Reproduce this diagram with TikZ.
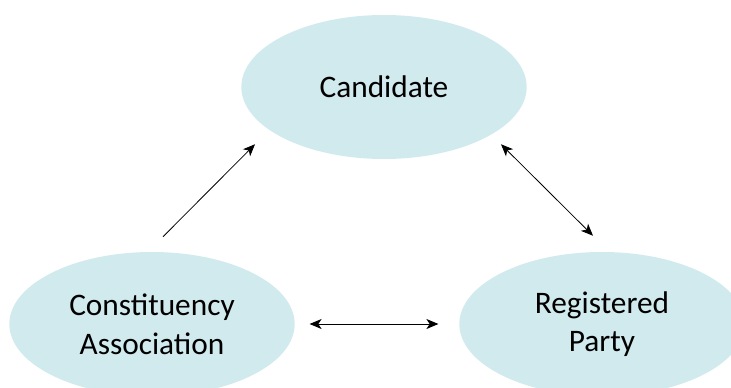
\documentclass[tikz,border=0pt]{standalone}
\usepackage{fontspec}
\setmainfont{Carlito}
\usetikzlibrary{shapes.geometric, arrows.meta, positioning}
\usepackage{xcolor}
\definecolor{bubble}{RGB}{209,234,238}

\begin{document}
\begin{tikzpicture}[x=0.75pt, y=0.75pt,
    role/.style={ellipse, fill=bubble, minimum width=214pt, minimum height=108pt,
      inner sep=0pt, align=center, font=\fontsize{23.5}{29}\selectfont},
    link/.style={line width=0.6pt, -{Stealth[length=9pt, width=7.5pt, inset=2.5pt]}},
    both/.style={line width=0.6pt, {Stealth[length=9pt, width=7.5pt, inset=2.5pt]}-{Stealth[length=9pt, width=7.5pt, inset=2.5pt]}}]
  \useasboundingbox (0,0) rectangle (731,387);
  \clip (0,0) rectangle (731,387);

  % the three bubbles
  \node[role] (cand) at (384,300) {Candidate};
  \node[role] (assoc) at (152,63) {Constituency\\Association};
  \node[role] (party) at (602,63) {Registered\\Party};

  % free ends of the slanted arrows
  \coordinate (a1) at ([shift={(11,15)}]assoc.north);
  \coordinate (c1) at ([shift={(-129,15)}]cand.south);
  \coordinate (c2) at ([shift={(117,15)}]cand.south);
  \coordinate (p1) at ([shift={(-9,16)}]party.north);

  \draw[link] (a1) -- (c1);
  \draw[both] (c2) -- (p1);
  \draw[both, shorten <=11pt, shorten >=15.5pt] (assoc.east) -- (party.west);
\end{tikzpicture}
\end{document}
